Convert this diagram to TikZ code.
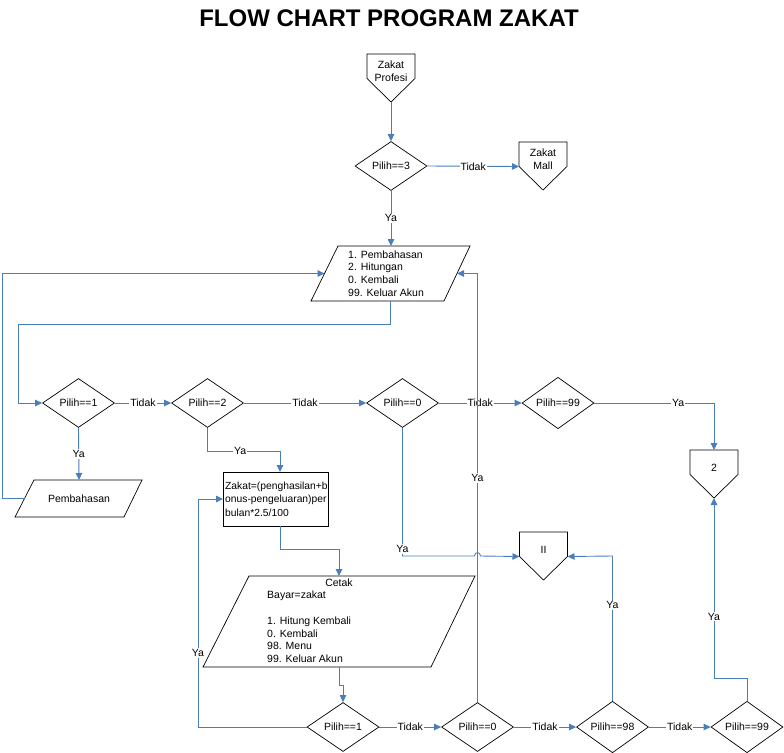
\documentclass[tikz,border=0pt]{standalone}
\usepackage{fontspec}
\setmainfont{Liberation Sans}
\usetikzlibrary{shapes.geometric,arrows.meta,calc}
\definecolor{cblue}{HTML}{4A7EBB}
\newcommand\offpg[4]{%
  \draw[shp] ({#2-24},#3) -- ({#2+24},#3) -- ({#2+24},{#3+24.5}) -- (#2,{#3+48}) -- ({#2-24},{#3+24.5}) -- cycle;
  \node[txt,align=center] (#1) at (#2,{#3+17.5}) {#4};
  \coordinate (#1-top) at (#2,#3);
  \coordinate (#1-tip) at (#2,{#3+48});
  \coordinate (#1-l) at ({#2-24},{#3+24.5});
  \coordinate (#1-r) at ({#2+24},{#3+24.5});
}
\begin{document}
\begin{tikzpicture}[x=1pt,y=-1pt,
  every node/.style={font=\fontsize{10.5}{12.6}\selectfont},
  shp/.style={draw=black, line width=0.7pt},
  dia/.style={diamond, shp, minimum width=72, minimum height=49, inner sep=0pt},
  conn/.style={draw=cblue, line width=0.9pt},
  arr/.style={conn, -{Triangle[length=7pt,width=6.5pt]}},
  lbl/.style={fill=white, inner sep=1pt},
  txt/.style={inner sep=0pt}]
\useasboundingbox (0,0) rectangle (784,752);

% title
\node (title) at (389,18) {\fontsize{24}{28}\selectfont\bfseries FLOW CHART PROGRAM ZAKAT};

% off-page connectors
\offpg{zp}{391}{54}{Zakat\\Profesi}
\offpg{zm}{543}{142}{Zakat\\Mall}
\offpg{two}{714}{450}{2}
\offpg{ii}{543.5}{532}{II}

% decisions
\node[dia] (d3) at (391,166) {Pilih==3};
\node[dia] (d1) at (78.5,403) {Pilih==1};
\node[dia] (d2) at (207.5,403) {Pilih==2};
\node[dia] (d0) at (402.5,403) {Pilih==0};
\node[dia] (d99) at (558,403) {Pilih==99};
\node[dia] (e1) at (343,727) {Pilih==1};
\node[dia] (e0) at (477.5,727) {Pilih==0};
\node[dia] (e98) at (612.5,727) {Pilih==98};
\node[dia] (e99) at (747,727) {Pilih==99};

% menu parallelogram
\draw[shp] (338,246) -- (470,246) -- (444,301) -- (311,301) -- cycle;
\node[txt,align=left,anchor=west] (menu) at (348,273.5) {1. Pembahasan\\2. Hitungan\\0. Kembali\\99. Keluar Akun};
\coordinate (menuN) at (391,246);
\coordinate (menuS) at (390,301);
\coordinate (menuW) at (324.5,273.5);
\coordinate (menuE) at (457,273.5);

% pembahasan parallelogram
\draw[shp] (34,480) -- (142,480) -- (124,517) -- (15,517) -- cycle;
\node[txt] (pb) at (79,498.5) {Pembahasan};
\coordinate (pbN) at (79,480);
\coordinate (pbW) at (24.5,498.5);

% calculation box
\node[shp, rectangle, minimum width=105, minimum height=54, inner sep=0pt] (calc) at (275.5,499) {};
\node[txt,align=left,anchor=west,font=\fontsize{10.3}{13.6}\selectfont] (calct) at (225,499) {Zakat=(penghasilan+b\\onus-pengeluaran)per\\bulan*2.5/100};
\coordinate (calcN) at (280,472);
\coordinate (calcS) at (280,526);
\coordinate (calcW) at (223,499);

% cetak parallelogram
\draw[shp] (249,576) -- (475,576) -- (431,667) -- (203,667) -- cycle;
\node[txt] (cetak) at (339,583) {Cetak};
\node[txt,align=left,anchor=west,font=\fontsize{10.5}{12.8}\selectfont] (cetakt) at (267,627) {Bayar=zakat\\[12.8pt]1. Hitung Kembali\\0. Kembali\\98. Menu\\99. Keluar Akun};
\coordinate (cetakN) at (339,576);
\coordinate (cetakS) at (339,667);

% connectors
\draw[arr] (zp-tip) -- (d3.north);
\draw[arr] (d3.east) -- node[lbl]{Tidak} (zm-l);
\draw[arr] (d3.south) -- node[lbl]{Ya} (menuN);
\draw[arr] (menuS) -- (390,324) -- (18,324) -- (18,403) -- (d1.west);
\draw[arr] (d1.east) -- node[lbl]{Tidak} (d2.west);
\draw[arr] (d2.east) -- node[lbl]{Tidak} (d0.west);
\draw[arr] (d0.east) -- node[lbl]{Tidak} (d99.west);
\draw[arr] (d99.east) -- node[lbl,pos=0.7]{Ya} (714,403) -- (two-top);
\draw[arr] (d1.south) -- node[lbl]{Ya} (pbN);
\draw[arr] (pbW) -- (2,498.5) -- (2,273.5) -- (menuW);
\draw[arr] (d2.south) -- (207.5,451) -- node[lbl,pos=0.45]{Ya} (280,451) -- (calcN);
\draw[arr] (calcS) -- (280,549) -- (339,549) -- (cetakN);
\draw[arr] (d0.south) -- (402.5,556) -- (474.5,556) .. controls (474.5,551.5) and (480.5,551.5) .. (480.5,556) -- (ii-l);
\node[lbl] (yaii) at (402.5,549) {Ya};
\draw[arr] (cetakS) -- (339,685) -- (343,685) -- (e1.north);
\draw[arr] (e1.west) -- (198,727) -- node[lbl,pos=0.325]{Ya} (198,499) -- (calcW);
\draw[arr] (e1.east) -- node[lbl]{Tidak} (e0.west);
\draw[arr] (e0.east) -- node[lbl]{Tidak} (e98.west);
\draw[arr] (e98.east) -- node[lbl]{Tidak} (e99.west);
\draw[arr] (e98.north) -- node[lbl,pos=0.66]{Ya} (612.5,556) -- (ii-r);
\draw[arr] (e99.north) -- (747,678) -- (714,678) -- node[lbl,pos=0.34]{Ya} (two-tip);
\draw[arr] (e0.north) -- node[lbl,pos=0.523]{Ya} (477.5,273.5) -- (menuE);
\end{tikzpicture}
\end{document}
